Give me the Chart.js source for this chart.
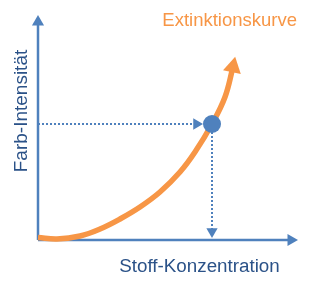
<!DOCTYPE html>
<html lang="de">
<head>
    <meta charset="UTF-8">
    <title>Extinktionskurve</title>
    <script src="https://cdn.jsdelivr.net/npm/chart.js"></script>
    <style>
        body { margin: 0; background: #fff; }
        canvas { display: block; }
    </style>
</head>
<body>
    <canvas id="chart" width="320" height="288"></canvas>
    <script>
        // curve (x = concentration, y = intensity)
        const curveX = [0, 19, 42, 62, 82, 102, 122, 142, 157, 174, 187, 195];
        const curveY = [2.5, 1, 4, 11, 21, 33, 48, 68, 88, 116, 143, 173];

        // measured point on the curve
        const pointX = [174];
        const pointY = [116];

        // arrow heads: y-axis, x-axis, horizontal guide, vertical guide, curve end
        const headX = [0, 253, 158.5, 174, 195];
        const headY = [218, 0, 116, 8.5, 173];
        const headAngle = [0, 90, 90, 180, 12];

        const blue = '#4f81bd';
        const orange = '#f79646';
        const textBlue = '#2b5288';

        const xy = (xs, ys) => xs.map((x, i) => ({ x: x, y: ys[i] }));

        const labels = {
            id: 'labels',
            afterDraw(chart) {
                const c = chart.ctx;
                c.save();
                c.font = '18.5px "Liberation Sans", Arial, sans-serif';
                c.fillStyle = orange;
                c.textAlign = 'right';
                c.textBaseline = 'alphabetic';
                c.fillText('Extinktionskurve', 297, 26);

                c.font = '18.8px "Liberation Sans", Arial, sans-serif';
                c.fillStyle = textBlue;
                c.textAlign = 'center';
                c.fillText('Stoff-Konzentration', 199.5, 272);

                c.translate(27, 111);
                c.rotate(-Math.PI / 2);
                c.font = '19px "Liberation Sans", Arial, sans-serif';
                c.fillText('Farb-Intensität', 0, 0);
                c.restore();
            }
        };

        new Chart(document.getElementById('chart'), {
            type: 'scatter',
            data: {
                datasets: [
                    {
                        label: 'Messpunkt',
                        data: xy(pointX, pointY),
                        pointRadius: 9,
                        pointBackgroundColor: blue,
                        pointBorderWidth: 0,
                        order: 0,
                        clip: false
                    },
                    {
                        label: 'Pfeile',
                        data: xy(headX, headY),
                        pointStyle: 'triangle',
                        pointRotation: headAngle,
                        pointRadius: [7, 7, 6.5, 6.5, 10.5],
                        pointBackgroundColor: [blue, blue, blue, blue, orange],
                        pointBorderWidth: 0,
                        order: 1,
                        clip: false
                    },
                    {
                        label: 'Extinktionskurve',
                        data: xy(curveX, curveY),
                        showLine: true,
                        borderColor: orange,
                        borderWidth: 5.5,
                        tension: 0.4,
                        pointRadius: 0,
                        order: 2,
                        clip: false
                    },
                    {
                        label: 'Hilfslinie x',
                        data: [{ x: 0, y: pointY[0] }, { x: headX[2], y: pointY[0] }],
                        showLine: true,
                        borderColor: blue,
                        borderWidth: 2,
                        borderDash: [2, 2],
                        pointRadius: 0,
                        order: 3,
                        clip: false
                    },
                    {
                        label: 'Hilfslinie y',
                        data: [{ x: pointX[0], y: pointY[0] }, { x: pointX[0], y: headY[3] }],
                        showLine: true,
                        borderColor: blue,
                        borderWidth: 2,
                        borderDash: [2, 2],
                        pointRadius: 0,
                        order: 3,
                        clip: false
                    },
                    {
                        label: 'y-Achse',
                        data: [{ x: 0, y: 0 }, { x: 0, y: headY[0] }],
                        showLine: true,
                        borderColor: blue,
                        borderWidth: 2.5,
                        pointRadius: 0,
                        order: 4,
                        clip: false
                    },
                    {
                        label: 'x-Achse',
                        data: [{ x: 0, y: 0 }, { x: headX[1], y: 0 }],
                        showLine: true,
                        borderColor: blue,
                        borderWidth: 2.5,
                        pointRadius: 0,
                        order: 4,
                        clip: false
                    }
                ]
            },
            options: {
                responsive: false,
                animation: false,
                layout: { padding: { left: 38, right: 22, top: 15, bottom: 48 } },
                scales: {
                    x: { type: 'linear', min: 0, max: 260, display: false },
                    y: { type: 'linear', min: 0, max: 225, display: false }
                },
                plugins: {
                    legend: { display: false },
                    tooltip: { enabled: false }
                }
            },
            plugins: [labels]
        });
    </script>
</body>
</html>
